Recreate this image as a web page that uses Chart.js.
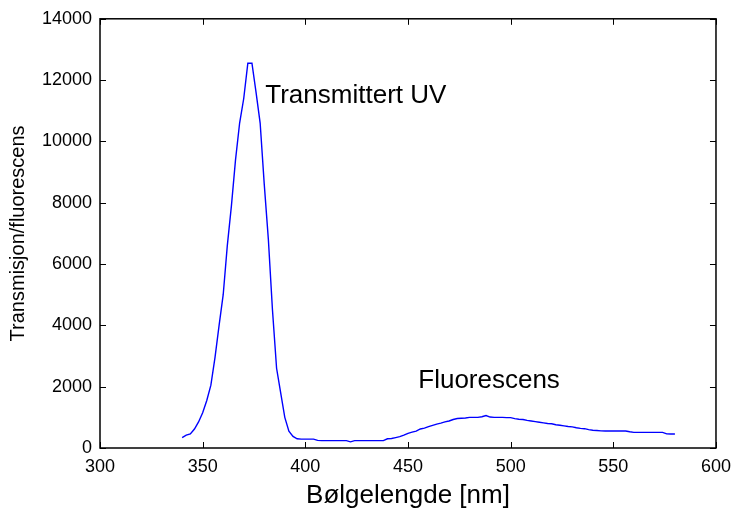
<!DOCTYPE html>
<html>
<head>
<meta charset="utf-8">
<script src="https://cdn.jsdelivr.net/npm/chart.js@4.4.1/dist/chart.umd.min.js"></script>
<style>
  html, body { margin: 0; padding: 0; background: #ffffff; }
  #wrap { width: 739px; height: 510px; }
</style>
</head>
<body>
<div id="wrap"><canvas id="c" width="739" height="510"></canvas></div>
<script>
// Wavelengths (nm)
const wavelengths = [
  340,342,344,346,348,350,352,354,356,358,
  360,362,364,366,368,370,372,374,376,378,
  380,382,384,386,388,390,392,394,396,398,
  400,402,404,406,408,410,412,414,416,418,
  420,422,424,426,428,430,432,434,436,438,
  440,442,444,446,448,450,452,454,456,458,
  460,462,464,466,468,470,472,474,476,478,
  480,482,484,486,488,490,492,494,496,498,
  500,502,504,506,508,510,512,514,516,518,
  520,522,524,526,528,530,532,534,536,538,
  540,542,544,546,548,550,552,554,556,558,
  560,562,564,566,568,570,572,574,576,578,
  580
];
// Measured intensity (transmission / fluorescence)
const intensity = [
  340,420,460,620,850,1150,1550,2050,2950,4000,
  5000,6600,7900,9400,10600,11400,12550,12550,11600,10600,
  8600,6800,4500,2600,1800,1000,550,380,300,290,
  290,290,290,250,240,240,240,240,240,240,
  240,200,240,240,240,240,240,240,240,240,
  300,310,340,370,420,480,520,550,620,650,
  700,740,780,810,850,880,930,960,970,980,
  1000,1000,1000,1020,1060,1010,1000,1000,1000,990,
  990,960,940,930,900,880,860,840,820,800,
  790,760,740,720,700,690,660,640,630,600,
  580,570,560,555,555,555,555,555,555,530,
  510,510,510,510,510,510,510,510,460,455,
  455
];
const xTicks = [300,350,400,450,500,550,600];
const yTicks = [0,2000,4000,6000,8000,10000,12000,14000];
const annotations = [
  { text: 'Transmittert UV', x: 380.5, y: 11500 },
  { text: 'Fluorescens', x: 455, y: 2180 }
];

const points = wavelengths.map((w, i) => ({ x: w, y: intensity[i] }));
const FONT = '"Liberation Sans", Arial, Helvetica, sans-serif';

const boxPlugin = {
  id: 'boxPlugin',
  afterDatasetsDraw(chart) {
    const ctx = chart.ctx;
    const a = chart.chartArea;
    const xs = chart.scales.x, ys = chart.scales.y;
    ctx.save();
    ctx.strokeStyle = '#000';
    ctx.lineWidth = 1;
    const tl = 6;
    ctx.beginPath();
    xTicks.forEach(v => {
      const px = Math.round(xs.getPixelForValue(v)) + 0.5;
      ctx.moveTo(px, a.bottom); ctx.lineTo(px, a.bottom - tl);
      ctx.moveTo(px, a.top); ctx.lineTo(px, a.top + tl);
    });
    yTicks.forEach(v => {
      const py = Math.round(ys.getPixelForValue(v)) + 0.5;
      ctx.moveTo(a.left, py); ctx.lineTo(a.left + tl, py);
      ctx.moveTo(a.right, py); ctx.lineTo(a.right - tl, py);
    });
    ctx.stroke();
    ctx.lineWidth = 1.5;
    ctx.strokeRect(a.left, a.top, a.right - a.left, a.bottom - a.top);
    // annotations
    ctx.fillStyle = '#000';
    ctx.font = '26px ' + FONT;
    ctx.textAlign = 'left';
    ctx.textBaseline = 'middle';
    annotations.forEach(an => {
      ctx.fillText(an.text, xs.getPixelForValue(an.x), ys.getPixelForValue(an.y));
    });
    ctx.restore();
  }
};

new Chart(document.getElementById('c'), {
  type: 'scatter',
  data: {
    datasets: [{
      data: points,
      showLine: true,
      borderColor: '#0000ff',
      borderWidth: 1.4,
      pointRadius: 0,
      tension: 0,
      fill: false
    }]
  },
  options: {
    responsive: false,
    animation: false,
    events: [],
    layout: { padding: { top: 18, right: 21, left: 0, bottom: 0 } },
    plugins: { legend: { display: false }, tooltip: { enabled: false } },
    scales: {
      x: {
        type: 'linear', min: 300, max: 600,
        afterFit(s) { s.height = 62; },
        afterBuildTicks(s) { s.ticks = xTicks.map(v => ({ value: v })); },
        grid: { display: false, drawTicks: false },
        border: { display: false },
        ticks: { color: '#000', font: { family: FONT, size: 18 }, padding: 8, maxRotation: 0,
                 callback: v => String(v) },
        title: { display: true, text: 'Bølgelengde [nm]', color: '#000', font: { family: FONT, size: 26 }, padding: { top: 0, bottom: -1 } }
      },
      y: {
        type: 'linear', min: 0, max: 14000,
        afterFit(s) { s.width = 100; },
        afterBuildTicks(s) { s.ticks = yTicks.map(v => ({ value: v })); },
        grid: { display: false, drawTicks: false },
        border: { display: false },
        ticks: { color: '#000', font: { family: FONT, size: 18 }, padding: 8,
                 callback: v => String(v) },
        title: { display: true, text: 'Transmisjon/fluorescens', color: '#000', font: { family: FONT, size: 20 }, padding: { top: 6, bottom: 6 } }
      }
    }
  },
  plugins: [boxPlugin]
});
</script>
</body>
</html>
